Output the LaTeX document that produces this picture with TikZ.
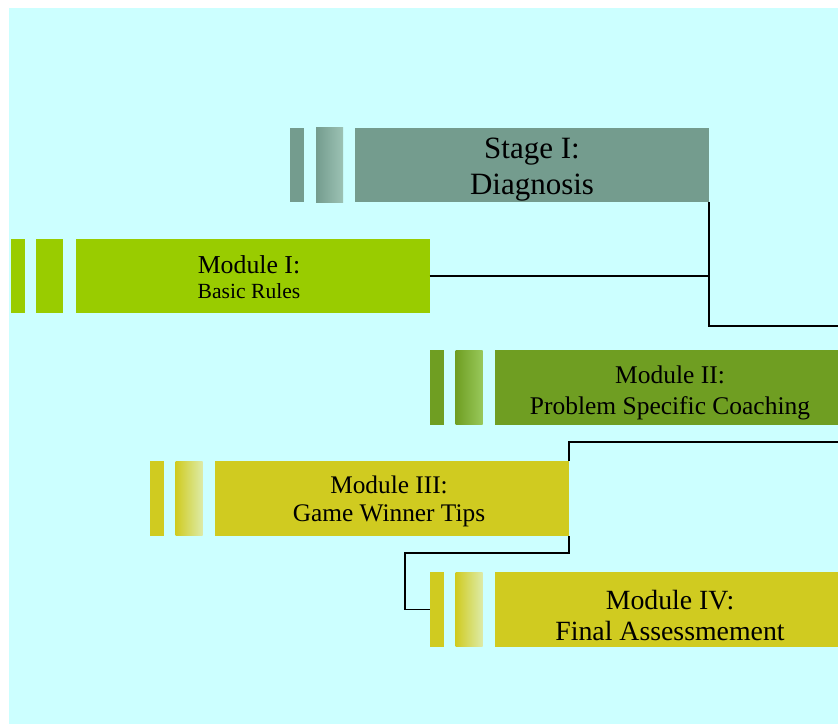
\documentclass[tikz,border=0pt]{standalone}
\usepackage{fontspec}
\setmainfont{Liberation Serif}
\definecolor{bgc}{HTML}{CCFFFF}
\definecolor{stagec}{HTML}{749C8E}
\definecolor{stagel}{HTML}{9CC2B4}
\definecolor{modonec}{HTML}{99CC00}
\definecolor{modtwoc}{HTML}{6F9E22}
\definecolor{modtwol}{HTML}{98C85A}
\definecolor{modthreec}{HTML}{D0CB20}
\definecolor{modthreel}{HTML}{DDEBA8}
\tikzset{
  mainbox/.style={inner sep=0pt, outer sep=0pt, draw=none, minimum width=265.5pt, minimum height=55.875pt},
  barone/.style={inner sep=0pt, outer sep=0pt, draw=none, minimum width=10.5pt, minimum height=55.875pt},
  bartwo/.style={inner sep=0pt, outer sep=0pt, draw=none, minimum width=20.25pt, minimum height=55.875pt},
  conn/.style={draw=black, line width=0.8pt},
  lbl/.style={inner sep=0pt, anchor=base, text=black}
}
\begin{document}
\begin{tikzpicture}[x=0.75pt,y=-0.75pt]
\useasboundingbox (0,0) rectangle (838,724);
\fill[bgc] (9,8) rectangle (838,724);
% free ends
\coordinate (e1) at (838,326);
\coordinate (e2) at (838,442);
\coordinate (c1) at (569,553);
\coordinate (c2) at (405,553);
% main boxes
\node[mainbox, fill=stagec] (s1) at (532,165) {};
\node[mainbox, fill=modonec] (m1) at (252.5,276) {};
\node[mainbox, fill=modtwoc] (m2) at (672,387.5) {};
\node[mainbox, fill=modthreec] (m3) at (392,498.5) {};
\node[mainbox, fill=modthreec] (m4) at (672,609.5) {};
% bars
\node[barone, fill=stagec] (s1a) at (297,165) {};
\node[bartwo, left color=stagec, middle color=stagec, right color=stagel] (s1b) at (329.5,165) {};
\node[barone, fill=modonec] (m1a) at (17.5,276) {};
\node[bartwo, fill=modonec] (m1b) at (49,276) {};
\node[barone, fill=modtwoc] (m2a) at (437,387.5) {};
\node[bartwo, left color=modtwoc, middle color=modtwoc, right color=modtwol] (m2b) at (469,387.5) {};
\node[barone, fill=modthreec] (m3a) at (157,498.5) {};
\node[bartwo, left color=modthreec, middle color=modthreec, right color=modthreel] (m3b) at (189,498.5) {};
\node[barone, fill=modthreec] (m4a) at (437,609.5) {};
\node[bartwo, left color=modthreec, middle color=modthreec, right color=modthreel] (m4b) at (469,609.5) {};
% connectors
\draw[conn] (s1.south east) |- (e1);
\draw[conn] (m1.east) -- (m1.east -| s1.south east);
\draw[conn] (e2) -| (m3.north east);
\draw[conn] (m3.south east) -- (c1) -- (c2) |- (m4a.west);
% labels
\node[lbl, font=\fontsize{23.25pt}{27pt}\selectfont] (t1) at (532,158) {Stage I:};
\node[lbl, font=\fontsize{23.25pt}{27pt}\selectfont] (t2) at (532,194) {Diagnosis};
\node[lbl, font=\fontsize{19.35pt}{23pt}\selectfont] (t3) at (249,273) {Module I:};
\node[lbl, font=\fontsize{16.2pt}{19pt}\selectfont] (t4) at (249,298) {Basic Rules};
\node[lbl, font=\fontsize{19.1pt}{23pt}\selectfont] (t5) at (670,383) {Module II:};
\node[lbl, font=\fontsize{19.1pt}{23pt}\selectfont] (t6) at (670,414) {Problem Specific Coaching};
\node[lbl, font=\fontsize{19pt}{23pt}\selectfont] (t7) at (389,493) {Module III:};
\node[lbl, font=\fontsize{19pt}{23pt}\selectfont] (t8) at (389,521) {Game Winner Tips};
\node[lbl, font=\fontsize{20.85pt}{25pt}\selectfont] (t9) at (670,609) {Module IV:};
\node[lbl, font=\fontsize{20.85pt}{25pt}\selectfont] (t10) at (670,640) {Final Assessmement};
\end{tikzpicture}
\end{document}
